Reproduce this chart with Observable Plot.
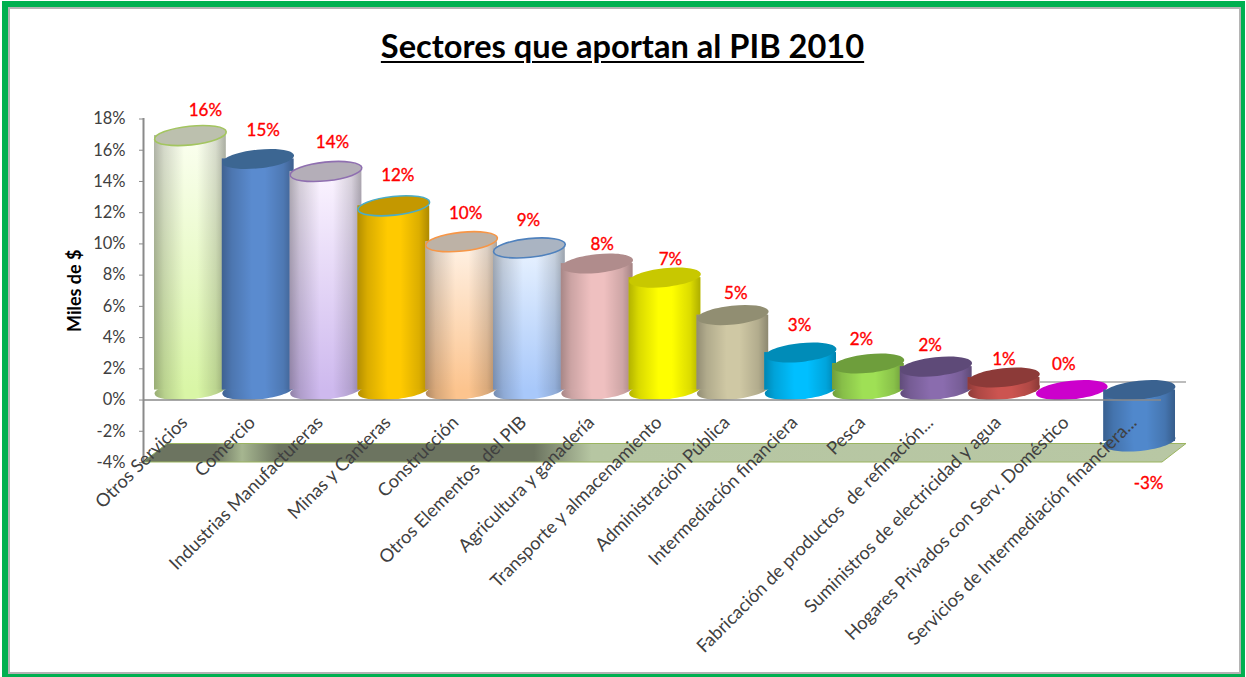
<!DOCTYPE html>
<html lang="es">
<head>
<meta charset="utf-8">
<script src="https://cdn.jsdelivr.net/npm/d3@7"></script>
<script src="https://cdn.jsdelivr.net/npm/@observablehq/plot@0.6"></script>
<style>
html,body{margin:0;padding:0;background:#fff;overflow:hidden}
#page{position:relative;width:1246px;height:677px;overflow:hidden;font-family:Lato,sans-serif}
#frame{position:absolute;left:2px;top:1px;width:1243px;height:676px;box-sizing:border-box;border-style:solid;border-color:#00b050;border-width:6px 4px 3px 6px;box-shadow:inset 0 0 0 2px #b4b4b4;pointer-events:none}
#title{position:absolute;left:0;width:1245px;top:26px;margin:0;text-align:center;font:bold 32.6px Lato,sans-serif;color:#000;text-decoration:underline;text-decoration-thickness:2px;text-underline-offset:3px}
#chart{position:absolute;left:0;top:0}
</style>
</head>
<body>
<div id="page">
<div id="frame"></div>
<h1 id="title">Sectores que aportan al PIB 2010</h1>
<div id="chart"></div>
</div>
<script>
const sectors = ["Otros Servicios","Comercio","Industrias Manufactureras","Minas y Canteras","Construcción","Otros Elementos  del PIB","Agricultura y ganadería","Transporte y almacenamiento","Administración Pública","Intermediación financiera","Pesca","Fabricación de productos  de refinación...","Suministros de electricidad y agua","Hogares Privados con Serv. Doméstico","Servicios de Intermediación financiera..."];
const values = [16.3,14.8,14.0,11.8,9.5,9.1,8.1,7.2,4.8,2.4,1.7,1.5,0.8,0,-3.3];
const valueLabels = ["16%","15%","14%","12%","10%","9%","8%","7%","5%","3%","2%","2%","1%","0%","-3%"];
const bodyTop = ["#fbfff0","#5a8bcf","#fbf4ff","#ffca00","#fff2e6","#e8f2ff","#efc0c0","#ffff00","#cfc8a4","#00bfff","#9fe055","#8a6cae","#cc5450","#cc00cc","#5088cc"];
const bodyBottom = ["#d9f6a6","#5a8bcf","#ceb9ee","#ffca00","#fcc48e","#a8c8fa","#efc0c0","#ffff00","#cfc8a4","#00bfff","#9fe055","#8a6cae","#cc5450","#cc00cc","#5088cc"];
const capFill = ["#bcc0ae","#3c6692","#b4aeb8","#c49800","#bdb2a6","#aab4c2","#b08c8c","#c8c800","#918e72","#008cb8","#6e9e3c","#5e4a78","#8c3a38","#cc00cc","#3a6290"];
const capStroke = ["#a3c55f","none","#8f6fb0","#4bacc6","#f79646","#4f81bd","none","none","none","none","none","none","none","none","none"];
const labelDx = [15,5,6.5,4,4,-1,5,5.5,3,-1,-7,-6,0,-8,9];
const labelDy = [-35,-38.5,-39,-40,-38,-37.5,-29,-28,-31.5,-37,-34,-31,-28,-35.5,32];

const rows = sectors.map((sector,i)=>({sector,value:values[i],label:valueLabels[i],i}));
const baseLift = -10, capRx = 36, capTilt = -6, floorDepthX = 24, floorDepthY = -18.5, axisGrey = "#8a8a8a";
const ellipse = {draw(c,size){const rx=Math.sqrt(size/Math.PI),ry=rx*0.26,k=0.5523;
  c.moveTo(-rx,0);
  c.bezierCurveTo(-rx,-ry*k,-rx*k,-ry,0,-ry);c.bezierCurveTo(rx*k,-ry,rx,-ry*k,rx,0);
  c.bezierCurveTo(rx,ry*k,rx*k,ry,0,ry);c.bezierCurveTo(-rx*k,ry,-rx,ry*k,-rx,0);c.closePath();}};

function defsMark(){
  const defs=d3.create("svg:defs");
  const grad=(id,x2,y2,stops)=>{const g=defs.append("linearGradient").attr("id",id).attr("x1",0).attr("y1",0).attr("x2",x2).attr("y2",y2);
    stops.forEach(([o,c,a])=>g.append("stop").attr("offset",o).attr("stop-color",c).attr("stop-opacity",a));};
  rows.forEach(d=>grad("body"+d.i,0,1,[[0,bodyTop[d.i],1],[1,bodyBottom[d.i],1]]));
  grad("shade",1,0,[[0,"#000",.3],[.14,"#000",.15],[.42,"#000",0],[.6,"#000",0],[.86,"#000",.14],[1,"#000",.32]]);
  grad("floor",1,0,[[0,"#6c7460",1],[.07,"#6c7460",1],[.095,"#a6b690",1],[.13,"#6c7460",1],[.375,"#6c7460",1],[.43,"#b6c6a2",1],[1,"#b8c7a4",1]]);
  return defs.node();
}
function floorMark(index,{y},values,{width,marginLeft,marginRight}){
  const l=marginLeft,r=width-marginRight-floorDepthX,b=y(-4);
  return d3.create("svg:polygon")
    .attr("points",[[l,b],[r,b],[r+floorDepthX,b+floorDepthY],[l+floorDepthX,b+floorDepthY]].join(" "))
    .attr("fill","url(#floor)").attr("stroke","#9bb55f").attr("stroke-width",1).node();
}
const barMarks = rows.flatMap(d=>{
  const one=[d], common={x:"sector",dy:baseLift};
  const dot=(y,fill,extra={})=>Plot.dot(one,{...common,y:()=>y,r:capRx,symbol:ellipse,rotate:capTilt,fill,stroke:"none",...extra});
  const bar=fill=>Plot.barY(one,{...common,y:"value",insetLeft:-2,insetRight:-2,fill});
  const base = d.value===0 ? [] : [dot(Math.min(d.value,0),bodyBottom[d.i]),dot(Math.min(d.value,0),"url(#shade)"),bar(`url(#body${d.i})`),bar("url(#shade)")];
  return [...base,dot(Math.max(d.value,0),capFill[d.i],{stroke:capStroke[d.i],strokeWidth:1.6})];
});

const plot = Plot.plot({
  width:1246,height:677,marginTop:118.5,marginBottom:215,marginLeft:143,marginRight:60,
  style:{fontFamily:"Lato, sans-serif",fontSize:"16.5px",background:"transparent",overflow:"visible"},
  x:{type:"band",domain:sectors,range:[156,1173],padding:0,round:false,axis:null},
  y:{domain:[-4,18],ticks:d3.range(-4,19,2),axis:null},
  marks:[
    defsMark,
    floorMark,
    Plot.ruleY([0],{dy:-18,insetLeft:897,stroke:"#a6a6a6",strokeWidth:1.5}),
    ...barMarks,
    Plot.ruleY([0],{insetRight:25,stroke:axisGrey,strokeWidth:1.6}),
    Plot.frame({anchor:"left",stroke:axisGrey,strokeWidth:2}),
    Plot.axisY({ticks:d3.range(-4,19,2),tickFormat:d=>d+"%",tickSize:4,tickPadding:14,stroke:axisGrey,color:"#404040",fill:"#404040",label:null}),
    Plot.text(["Miles de $"],{frameAnchor:"left",textAnchor:"middle",rotate:-90,dx:-68,dy:0,fill:"#000",fontWeight:"bold",fontSize:18}),
    ...rows.map(d=>Plot.text([d],{x:"sector",y:"value",text:"label",dx:labelDx[d.i],dy:labelDy[d.i],fill:"#ff0000",stroke:"#ff0000",strokeWidth:0.35,fontSize:17})),
    Plot.axisX({tickRotate:-45,tickSize:0,tickPadding:2,dy:-45,dx:-6,fill:"#404040",fontSize:18.2,label:null,lineWidth:40})
  ]
});
document.getElementById("chart").appendChild(plot);
</script>
</body>
</html>
